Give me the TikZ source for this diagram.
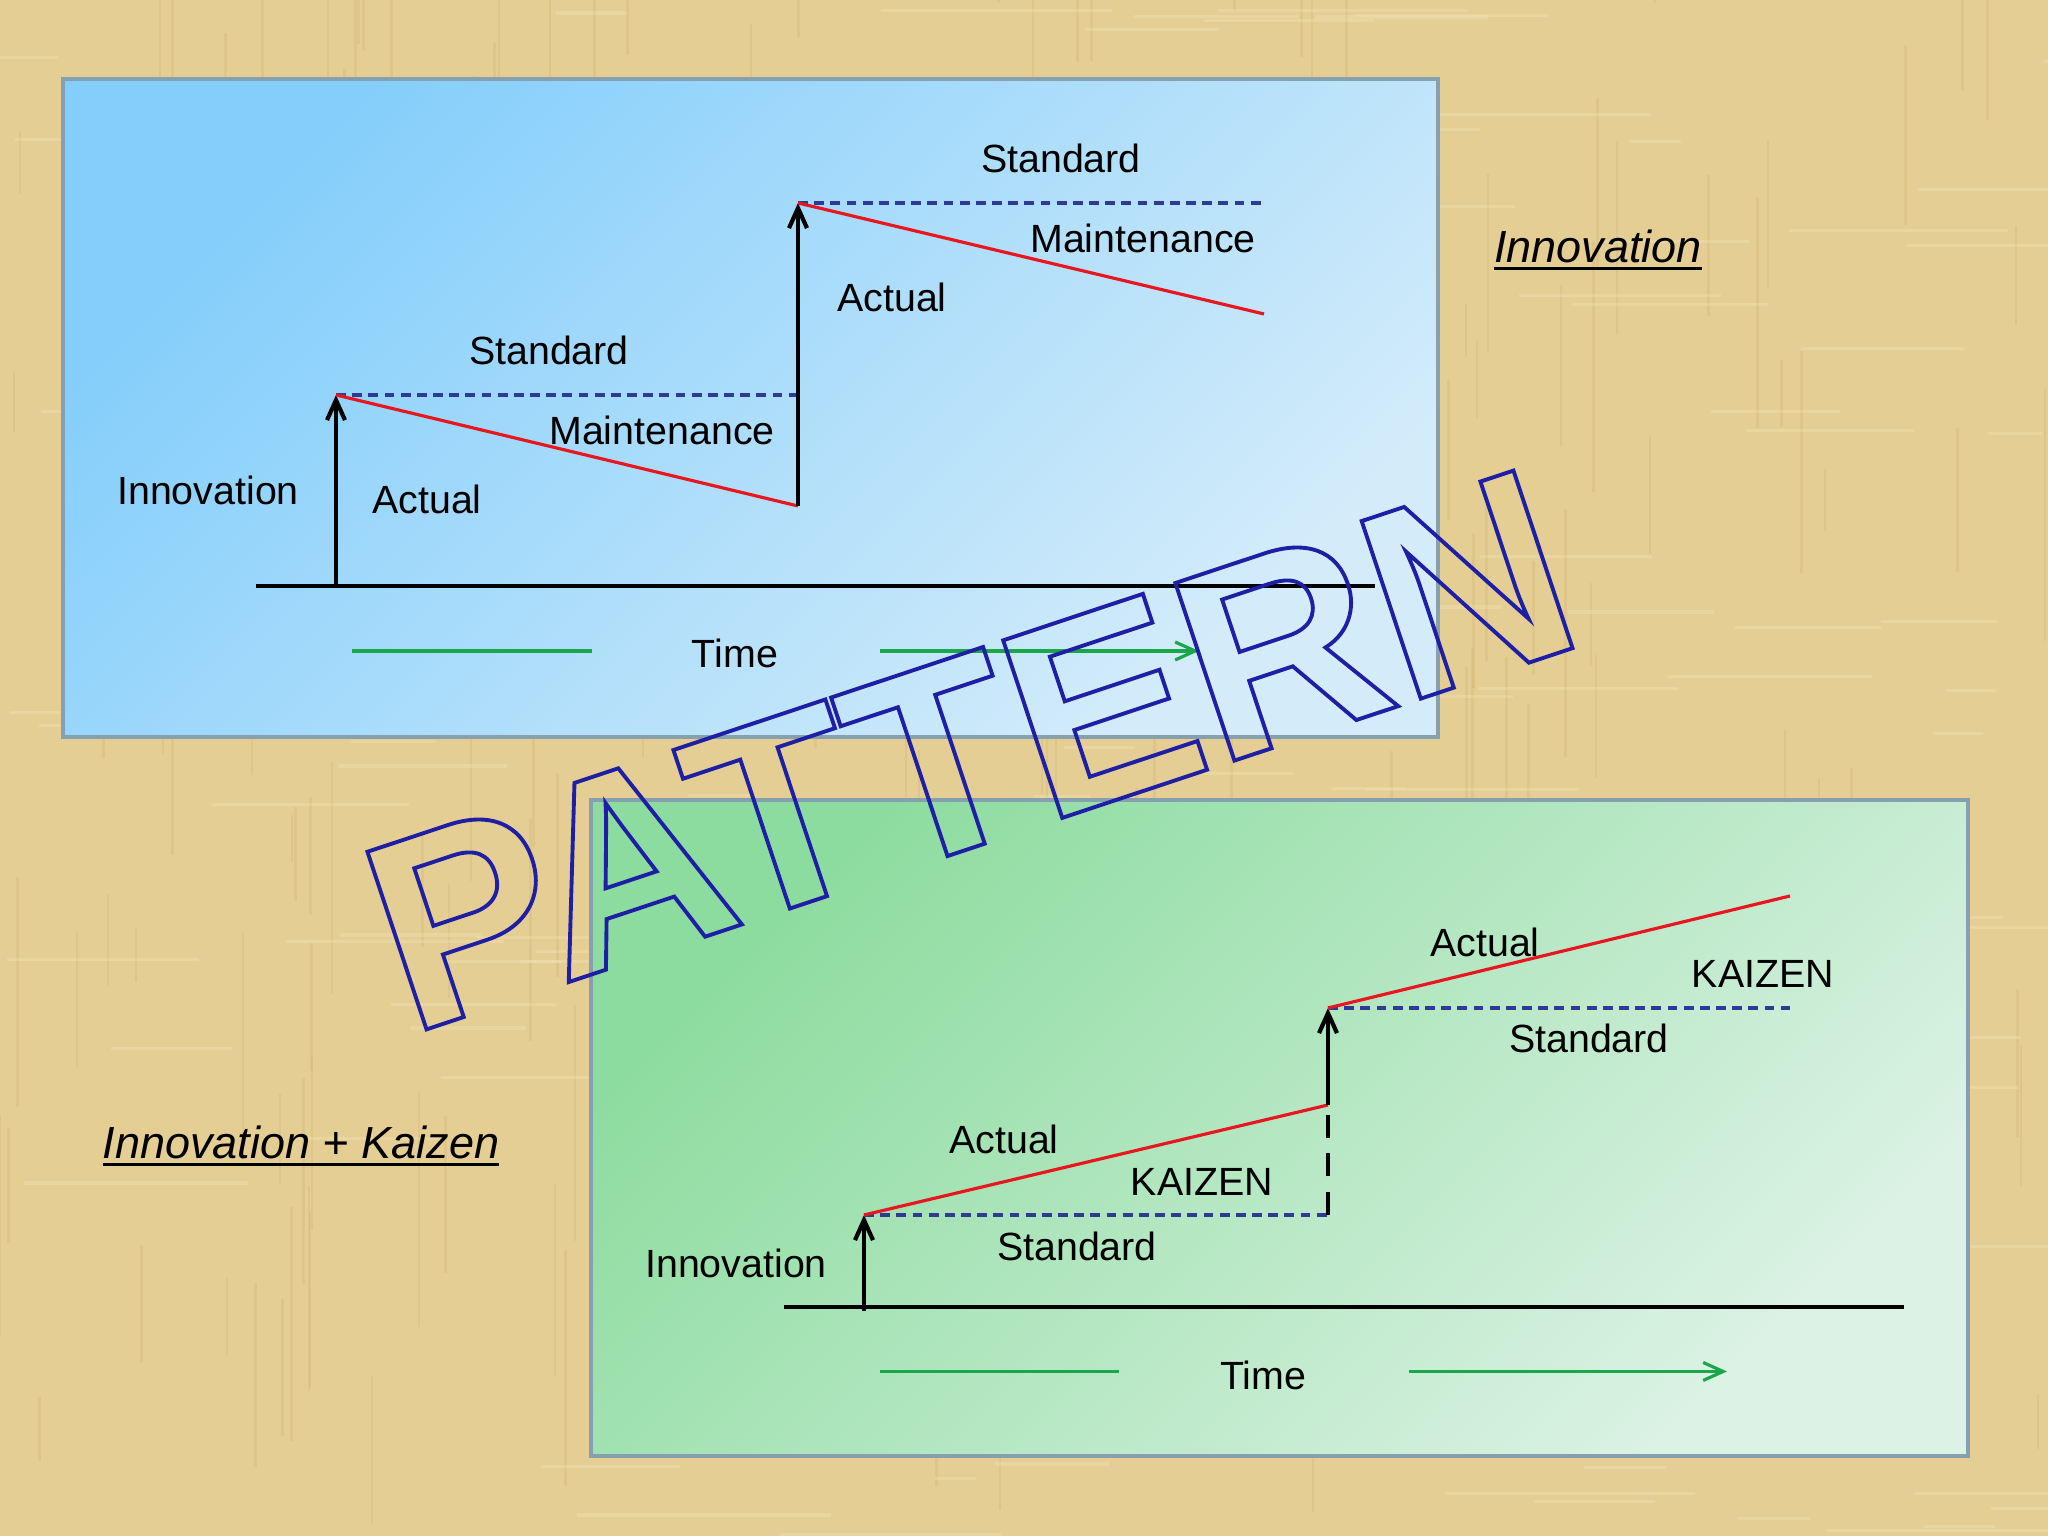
\documentclass[tikz,border=0pt]{standalone}
\usepackage{fontspec}
\setmainfont{Liberation Sans}
\usepackage{xcolor}
\usetikzlibrary{arrows.meta, positioning}

\definecolor{paper}{HTML}{E4CE94}
\definecolor{paperdark}{HTML}{C9AE6A}
\definecolor{paperlight}{HTML}{F2E3B6}
\definecolor{skyA}{HTML}{84CEFB}
\definecolor{skyB}{HTML}{D4ECFA}
\definecolor{mintA}{HTML}{8DDC9F}
\definecolor{mintB}{HTML}{DCF2E5}
\definecolor{frame}{HTML}{86A0AF}
\definecolor{stdblue}{HTML}{2E3A96}
\definecolor{actred}{HTML}{E8161E}
\definecolor{timegreen}{HTML}{1AA64A}
\definecolor{markblue}{HTML}{1F1FA6}

% underlined slide headings
\newsavebox{\headbox}
\newcommand{\ruled}[1]{\sbox{\headbox}{#1}\rlap{\usebox{\headbox}}\rule[-2.1pt]{\wd\headbox}{0.85pt}}

% stroked (hollow) letters for the watermark
\newcommand{\outlined}[1]{\special{pdf:literal direct 1 Tr 1.1 w}#1\special{pdf:literal direct 0 Tr}}

\tikzset{
>={Straight Barb[length=2mm,width=1.8mm]}, % open barbs like the slide
panel/.style={draw=frame, line width=1.2pt},
label/.style={font=\fontsize{11.2}{13}\selectfont, inner sep=0pt},
heading/.style={font=\fontsize{12.8}{15}\selectfont\itshape, inner sep=0pt, anchor=base},
stdline/.style={stdblue, line width=0.9pt, dash pattern=on 2.8pt off 1.8pt},
actline/.style={actred, line width=0.9pt},
stepup/.style={->, line width=1.2pt},
baseline/.style={line width=1.1pt},
timeline/.style={timegreen, line width=0.9pt},
}

\begin{document}
\begin{tikzpicture}
    \useasboundingbox (0,0) rectangle (20.48,15.36);
    \fill[paper] (0,0) rectangle (20.48,15.36);

    % papyrus fibres
    \pgfmathsetseed{7}
    \foreach \i in {1,...,220} {
        \pgfmathsetmacro\xx{rnd*20.48}
        \pgfmathsetmacro\yy{rnd*15.36}
        \pgfmathsetmacro\ll{0.4+rnd*2.2}
        \draw[paperdark, opacity=0.22, line width=0.7pt] (\xx,\yy) -- ++(0,\ll);
    }
    \foreach \i in {1,...,160} {
        \pgfmathsetmacro\xx{rnd*20.48}
        \pgfmathsetmacro\yy{rnd*15.36}
        \pgfmathsetmacro\ll{0.4+rnd*2.2}
        \draw[paperlight, opacity=0.35, line width=0.9pt] (\xx,\yy) -- ++(\ll,0);
    }

    % the two slides
    \path[panel, top color=skyA, bottom color=skyB, shading angle=45] (0.63,7.99) rectangle (14.38,14.57);
    \path[panel, top color=mintA, bottom color=mintB, shading angle=45] (5.91,0.80) rectangle (19.68,7.36);

    \node[heading] (titleInno) at (15.98,12.73) {\ruled{Innovation}};
    \node[heading] (titleBoth) at (3.01,3.77) {\ruled{Innovation + Kaizen}};

    % upper slide: innovation only
    \coordinate (u0) at (2.56,9.50);
    \coordinate (u9) at (13.75,9.50);
    \coordinate (uA) at (3.36,9.50);
    \coordinate (uB) at (3.36,11.41);
    \coordinate (uC) at (7.98,11.41);
    \coordinate (uD) at (7.98,10.30);
    \coordinate (uE) at (7.98,13.33);
    \coordinate (uF) at (12.64,13.33);
    \coordinate (uG) at (12.64,12.22);

    \draw[baseline] (u0) -- (u9);
    \draw[stepup] (uA) -- (uB);
    \draw[stdline] (uB) -- (uC);
    \draw[actline] (uB) -- (uD);
    \draw[stepup] (uD) -- (uE);
    \draw[stdline] (uE) -- (uF);
    \draw[actline] (uE) -- (uG);

    \node[label] (uStd1) at (5.49,11.86) {Standard};
    \node[label] (uMnt1) at (6.62,11.06) {Maintenance};
    \node[label] (uInno) at (2.08,10.46) {Innovation};
    \node[label] (uAct1) at (4.27,10.37) {Actual};
    \node[label] (uStd2) at (10.61,13.78) {Standard};
    \node[label] (uMnt2) at (11.43,12.98) {Maintenance};
    \node[label] (uAct2) at (8.92,12.39) {Actual};

    \node[label] (uTime) at (7.35,8.83) {Time};
    \coordinate (ut1) at (3.52,8.85);
    \coordinate (ut2) at (5.92,8.85);
    \coordinate (ut3) at (8.80,8.85);
    \coordinate (ut4) at (11.99,8.85);
    \draw[timeline] (ut1) -- (ut2);
    \draw[timeline, ->] (ut3) -- (ut4);

    % lower slide: innovation + kaizen
    \coordinate (l0) at (7.84,2.29);
    \coordinate (l9) at (19.04,2.29);
    \coordinate (lA) at (8.64,2.25);
    \coordinate (lB) at (8.64,3.21);
    \coordinate (lC) at (13.28,3.21);
    \coordinate (lD) at (13.28,4.31);
    \coordinate (lE) at (13.28,5.28);
    \coordinate (lF) at (17.90,5.28);
    \coordinate (lG) at (17.90,6.40);

    \draw[baseline] (l0) -- (l9);
    \draw[stepup] (lA) -- (lB);
    \draw[stdline] (lB) -- (lC);
    \draw[line width=1.4pt, dash pattern=on 6.5pt off 4.5pt] (lC) -- (lD);
    \draw[actline] (lB) -- (lD);
    \draw[stepup] (lD) -- (lE);
    \draw[stdline] (lE) -- (lF);
    \draw[actline] (lE) -- (lG);

    \node[label] (lInno) at (7.36,2.73) {Innovation};
    \node[label] (lStd1) at (10.77,2.90) {Standard};
    \node[label] (lKai1) at (12.02,3.54) {KAIZEN};
    \node[label] (lAct1) at (10.04,3.97) {Actual};
    \node[label] (lStd2) at (15.89,4.98) {Standard};
    \node[label] (lKai2) at (17.63,5.62) {KAIZEN};
    \node[label] (lAct2) at (14.85,5.94) {Actual};

    \node[label] (lTime) at (12.63,1.61) {Time};
    \coordinate (lt1) at (8.80,1.645);
    \coordinate (lt2) at (11.19,1.645);
    \coordinate (lt3) at (14.09,1.645);
    \coordinate (lt4) at (17.27,1.645);
    \draw[timeline] (lt1) -- (lt2);
    \draw[timeline, ->] (lt3) -- (lt4);

    % watermark
    \node[rotate=18.4, inner sep=0pt, text=markblue, font=\fontsize{77.4}{80}\selectfont\bfseries] (mark) at (9.70,7.86) {\outlined{PATTERN}};
\end{tikzpicture}
\end{document}
